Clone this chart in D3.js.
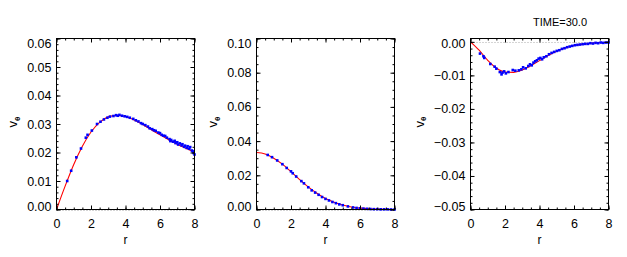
<!DOCTYPE html>
<html>
<head>
<meta charset="utf-8">
<script src="https://cdn.jsdelivr.net/npm/d3@7"></script>
<style>
	body { margin: 0; background: #fff; }
	svg { display: block; }
	text { font-family: "Liberation Sans", Arial, Helvetica, sans-serif; fill: #000; }
</style>
</head>
<body>
<script>
// r grid of the red (model) curves
var curveR = [0, 0.5, 1, 1.5, 2, 2.5, 3, 3.5, 4, 4.5, 5, 5.5, 6, 6.5, 7, 7.5, 8];

// panel 1: v_theta model
var curve1 = [0, 0.0082, 0.0158, 0.0222, 0.0272, 0.0306, 0.0325, 0.0330, 0.0326, 0.0314,
	0.0298, 0.0280, 0.0262, 0.0245, 0.0229, 0.0215, 0.0201];
// panel 2
var curve2 = [0.0333, 0.0325, 0.0300, 0.0265, 0.0221, 0.0175, 0.0132, 0.0095, 0.0064, 0.0042,
	0.0026, 0.0015, 0.0008, 0.0004, 0.0002, 0.0001, 0.00004];
// panel 3
var curve3 = [0, -0.0025, -0.0055, -0.0078, -0.0090, -0.0091, -0.0084, -0.0071, -0.0056, -0.0041,
	-0.0028, -0.0018, -0.0011, -0.0007, -0.0004, -0.0002, -0.0001];

// blue particle samples [r, v]
var points1 = [[0.62,0.0100],[0.85,0.0136],[1.15,0.0183],[1.42,0.0214],[1.70,0.0252],[1.80,0.0262],
	[2.05,0.0277],[2.35,0.0300],[2.55,0.0308],[2.75,0.0316],[2.95,0.0322],[3.10,0.0326],[3.30,0.0328],
	[3.45,0.0331],[3.55,0.0329],[3.65,0.0332],[3.80,0.0329],[3.95,0.0327],[4.10,0.0325],[4.25,0.0322],
	[4.45,0.0318],[4.60,0.0313],[4.75,0.0309],[4.90,0.0303],[5.00,0.0300],[5.15,0.0296],[5.30,0.0291],
	[5.40,0.0285],[5.55,0.0282],[5.65,0.0278],[5.75,0.0276],[5.90,0.0270],[6.00,0.0268],[6.10,0.0262],
	[6.20,0.0259],[6.30,0.0258],[6.40,0.0252],[6.55,0.0247],[6.60,0.0240],[6.65,0.0244],[6.75,0.0238],
	[6.85,0.0241],[6.90,0.0233],[7.00,0.0236],[7.05,0.0228],[7.15,0.0232],[7.25,0.0225],[7.30,0.0229],
	[7.40,0.0220],[7.45,0.0224],[7.55,0.0216],[7.60,0.0222],[7.70,0.0213],[7.75,0.0219],[7.85,0.0207],
	[7.90,0.0204],[7.95,0.0198],[8.00,0.0193]];
var points2 = [[0.65,0.0319],[0.90,0.0306],[1.20,0.0287],[1.50,0.0265],[1.75,0.0243],[2.00,0.0223],
	[2.10,0.0212],[2.30,0.0193],[2.60,0.0166],[2.75,0.0153],[3.00,0.0130],[3.20,0.0112],[3.40,0.0099],
	[3.60,0.0086],[3.80,0.0073],[4.00,0.0062],[4.20,0.0053],[4.40,0.0044],[4.60,0.0037],[4.80,0.0030],
	[5.00,0.0025],[5.30,0.0018],[5.60,0.0012],[5.80,0.0009],[6.00,0.0007],[6.20,0.0005],[6.40,0.0004],
	[6.60,0.0003],[6.80,0.0002],[7.00,0.0002],[7.20,0.0001],[7.40,0.0001],[7.60,0.0001],[7.80,0.0000],
	[8.00,0.0000]];
var points3 = [[0.55,-0.0035],[0.75,-0.0043],[0.80,-0.0048],[1.15,-0.0066],[1.40,-0.0074],[1.50,-0.0080],
	[1.70,-0.0090],[1.80,-0.0097],[1.85,-0.0092],[1.95,-0.0088],[2.05,-0.0094],[2.20,-0.0090],[2.45,-0.0084],
	[2.60,-0.0086],[2.80,-0.0085],[2.95,-0.0082],[3.05,-0.0076],[3.20,-0.0079],[3.35,-0.0072],[3.45,-0.0067],
	[3.55,-0.0070],[3.65,-0.0062],[3.75,-0.0058],[3.85,-0.0055],[3.95,-0.0050],[4.05,-0.0048],[4.15,-0.0052],
	[4.25,-0.0046],[4.40,-0.0043],[4.55,-0.0037],[4.70,-0.0033],[4.85,-0.0030],[5.00,-0.0027],[5.15,-0.0025],
	[5.30,-0.0021],[5.45,-0.0019],[5.60,-0.0016],[5.75,-0.0014],[5.90,-0.0012],[6.05,-0.0010],[6.20,-0.0009],
	[6.35,-0.0008],[6.50,-0.0007],[6.65,-0.0006],[6.80,-0.0006],[6.95,-0.0004],[7.10,-0.0005],[7.25,-0.0003],
	[7.40,-0.0004],[7.55,-0.0002],[7.70,-0.0003],[7.85,-0.0002],[8.00,-0.0002]];

// axis ranges and ticks
var xDomain = [0, 8];
var xMajor = [0, 2, 4, 6, 8];
var yDomains = [[0, 0.06], [0, 0.10], [-0.05, 0.001]];
var yMajorSteps = [0.01, 0.02, 0.01];
var yMinorCounts = [5, 4, 5];
var xLabel = 'r';
var title = 'TIME=30.0';

var W = 627, H = 257;
var lefts = [56.5, 256.5, 470.5];
var plotW = 138, plotTop = 38.5, plotBottom = 209.5;
var dot = 2.6;

var svg = d3.select('body').append('svg').attr('width', W).attr('height', H);

var panels = [
	{curve: curve1, points: points1},
	{curve: curve2, points: points2},
	{curve: curve3, points: points3}
];

var range = function(a, b, step){
	var out = [];
	var n = Math.round((b - a) / step);
	for(var i = 0; i <= n; i++){ out.push(+(a + i * step).toFixed(6)); }
	return out;
};

panels.forEach(function(p, i){
	var left = lefts[i];
	var x = d3.scaleLinear().domain(xDomain).range([left, left + plotW]);
	var y = d3.scaleLinear().domain(yDomains[i]).range([plotBottom, plotTop]);
	var g = svg.append('g');

	var step = yMajorSteps[i];
	var y0 = Math.ceil(yDomains[i][0] / step - 1e-6) * step;
	var yTicks = range(y0, Math.floor(yDomains[i][1] / step + 1e-6) * step, step);
	var yMinor = range(y0 - step, yTicks[yTicks.length - 1] + step, step / yMinorCounts[i])
		.filter(function(v){ return v >= yDomains[i][0] - 1e-9 && v <= yDomains[i][1] + 1e-9; });
	var xMinor = range(xDomain[0], xDomain[1], 0.5);

	// zero reference (dotted)
	g.append('line')
		.attr('x1', x(xDomain[0])).attr('x2', x(xDomain[1]))
		.attr('y1', Math.round(y(0)) + 0.5).attr('y2', Math.round(y(0)) + 0.5)
		.attr('stroke', '#aaa').attr('stroke-width', 1).attr('stroke-dasharray', '1,2');

	// model curve
	var line = d3.line()
		.x(function(d, k){ return x(curveR[k]); })
		.y(function(d){ return y(d); })
		.curve(d3.curveMonotoneX);
	g.append('path').datum(p.curve)
		.attr('d', line)
		.attr('fill', 'none').attr('stroke', '#ff0000').attr('stroke-width', 1.1);

	// particle points
	g.selectAll('rect.pt').data(p.points).enter().append('rect')
		.attr('class', 'pt')
		.attr('x', function(d){ return x(d[0]) - dot / 2; })
		.attr('y', function(d){ return y(d[1]) - dot / 2; })
		.attr('width', dot).attr('height', dot)
		.attr('fill', '#0000ff');

	// frame
	g.append('rect')
		.attr('x', left).attr('y', plotTop).attr('width', plotW).attr('height', plotBottom - plotTop)
		.attr('fill', 'none').attr('stroke', '#000').attr('stroke-width', 1);

	// minor ticks (inward, all sides)
	var minorX = function(ax){ return ax.tickValues(xMinor).tickSize(-2).tickFormat(''); };
	var minorY = function(ax){ return ax.tickValues(yMinor).tickSize(-2).tickFormat(''); };
	g.append('g').attr('transform', 'translate(0,' + plotBottom + ')').call(minorX(d3.axisBottom(x)));
	g.append('g').attr('transform', 'translate(0,' + plotTop + ')').call(minorX(d3.axisTop(x)));
	g.append('g').attr('transform', 'translate(' + left + ',0)').call(minorY(d3.axisLeft(y)));
	g.append('g').attr('transform', 'translate(' + (left + plotW) + ',0)').call(minorY(d3.axisRight(y)));

	// major ticks
	g.append('g').attr('transform', 'translate(0,' + plotBottom + ')')
		.call(d3.axisBottom(x).tickValues(xMajor).tickSize(-4).tickPadding(10).tickFormat(d3.format('d')));
	g.append('g').attr('transform', 'translate(0,' + plotTop + ')')
		.call(d3.axisTop(x).tickValues(xMajor).tickSize(-4).tickFormat(''));
	var yl = g.append('g').attr('transform', 'translate(' + left + ',0)')
		.call(d3.axisLeft(y).tickValues(yTicks).tickSize(-4).tickPadding(5).tickFormat(d3.format('.2f')));
	g.append('g').attr('transform', 'translate(' + (left + plotW) + ',0)')
		.call(d3.axisRight(y).tickValues(yTicks).tickSize(-4).tickFormat(''));

	g.selectAll('.domain').remove();
	g.selectAll('.tick line').attr('stroke', '#000');
	g.selectAll('.tick text').attr('font-size', 12.5).attr('font-family', null);

	// keep outermost y labels inside the axis span
	yl.selectAll('.tick').each(function(d){
		var ty = y(d);
		var cy = Math.max(plotTop + 4.5, Math.min(plotBottom - 3.5, ty));
		d3.select(this).select('text').attr('y', cy - ty);
	});

	var maxW = 0;
	yl.selectAll('.tick text').each(function(){ maxW = Math.max(maxW, this.getComputedTextLength()); });

	// axis titles
	svg.append('text')
		.attr('x', left + plotW / 2).attr('y', 244)
		.attr('text-anchor', 'middle').attr('font-size', 12)
		.text(xLabel);

	var vt = svg.append('text')
		.attr('transform', 'translate(' + (left - 5 - maxW - 10) + ',' + 122 + ') rotate(-90)')
		.attr('text-anchor', 'middle').attr('font-size', 13);
	vt.append('tspan').text('v');
	vt.append('tspan').attr('font-size', 8).attr('dy', 2.5).attr('font-weight', 'bold').text('\u03b8');
});

svg.append('text')
	.attr('x', 560).attr('y', 26)
	.attr('text-anchor', 'middle').attr('font-size', 11)
	.text(title);
</script>
</body>
</html>
